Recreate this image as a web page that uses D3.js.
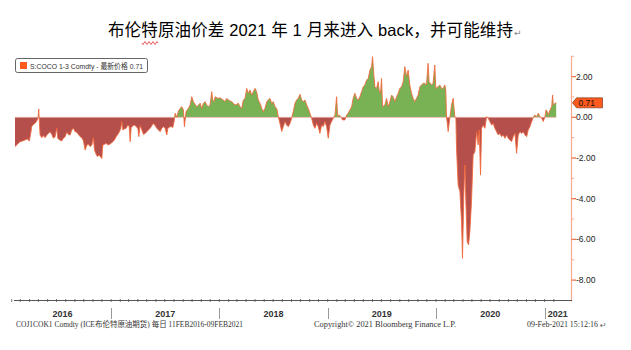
<!DOCTYPE html>
<html><head><meta charset="utf-8">
<script src="https://cdn.jsdelivr.net/npm/d3@7"></script>
<style>body{margin:0;background:#fff;} svg{display:block;}</style>
</head><body>
<svg id="c" width="631" height="350"></svg>
<script>
// ---- data (dates as fractional years, values = 1-3 month Brent spread) ----
const dateYears = [
2016.115,2016.137,2016.161,2016.186,2016.208,2016.229,2016.247,2016.260,2016.269,2016.284,2016.300,2016.315,2016.327,2016.334,2016.339,2016.346,2016.362,2016.376,2016.392,2016.408,2016.422,2016.438,2016.454,2016.469,2016.484,2016.500,2016.509,2016.524,2016.546,2016.561,2016.576,2016.592,2016.607,2016.623,2016.638,2016.653,2016.669,2016.684,2016.699,2016.715,2016.730,2016.745,2016.761,2016.777,2016.791,2016.807,2016.823,2016.837,2016.847,2016.862,2016.874,2016.890,2016.902,2016.915,2016.924,2016.939,2016.955,2016.970,2016.985,
2017.001,2017.016,2017.031,2017.047,2017.062,2017.077,2017.090,2017.099,2017.109,2017.123,2017.139,2017.155,2017.167,2017.176,2017.185,2017.201,2017.216,2017.231,2017.247,2017.256,2017.268,2017.284,2017.299,2017.314,2017.330,2017.345,2017.360,2017.376,2017.391,2017.407,2017.422,2017.437,2017.453,2017.468,2017.483,2017.499,2017.514,2017.524,2017.538,2017.554,2017.570,2017.582,2017.591,2017.607,2017.621,2017.637,2017.653,2017.668,2017.677,2017.692,2017.714,2017.729,2017.745,2017.760,2017.775,2017.791,2017.806,2017.822,2017.837,2017.852,2017.868,2017.883,2017.898,2017.914,2017.929,2017.939,2017.951,2017.960,2017.976,2017.990,
2018.006,2018.022,2018.036,2018.052,2018.068,2018.083,2018.098,2018.114,2018.129,2018.144,2018.160,2018.175,2018.190,2018.206,2018.221,2018.237,2018.252,2018.267,2018.283,2018.298,2018.313,2018.329,2018.344,2018.359,2018.375,2018.391,2018.405,2018.421,2018.437,2018.451,2018.467,2018.483,2018.498,2018.513,2018.529,2018.544,2018.559,2018.575,2018.590,2018.606,2018.621,2018.636,2018.652,2018.667,2018.682,2018.698,2018.713,2018.728,2018.744,2018.760,2018.774,2018.790,2018.806,2018.820,2018.836,2018.852,2018.867,2018.882,2018.898,2018.913,2018.928,2018.944,2018.959,2018.974,2018.990,
2019.005,2019.021,2019.036,2019.051,2019.067,2019.082,2019.092,2019.106,2019.122,2019.138,2019.159,2019.175,2019.189,2019.205,2019.221,2019.235,2019.251,2019.267,2019.282,2019.297,2019.313,2019.328,2019.343,2019.359,2019.374,2019.390,2019.405,2019.414,2019.426,2019.436,2019.451,2019.466,2019.475,2019.488,2019.497,2019.507,2019.528,2019.544,2019.558,2019.574,2019.590,2019.604,2019.620,2019.636,2019.651,2019.666,2019.682,2019.697,2019.712,2019.728,2019.743,2019.758,2019.774,2019.789,2019.805,2019.820,2019.835,2019.851,2019.866,2019.881,2019.897,2019.912,2019.927,2019.936,2019.959,2019.973,2019.989,2019.998,
2020.019,2020.035,2020.051,2020.066,2020.081,2020.090,2020.097,2020.102,2020.112,2020.127,2020.143,2020.158,2020.173,2020.183,2020.189,2020.204,2020.220,2020.235,2020.244,2020.256,2020.266,2020.275,2020.287,2020.300,2020.312,2020.327,2020.342,2020.358,2020.374,2020.388,2020.398,2020.410,2020.420,2020.434,2020.450,2020.466,2020.481,2020.496,2020.512,2020.527,2020.542,2020.558,2020.573,2020.588,2020.604,2020.619,2020.635,2020.650,2020.665,2020.681,2020.696,2020.711,2020.727,2020.742,2020.757,2020.773,2020.789,2020.803,2020.819,2020.835,2020.849,2020.865,2020.881,2020.896,2020.911,2020.927,2020.942,2020.957,2020.973,2020.988,
2021.003,2021.013,2021.025,2021.034,2021.050,2021.065,2021.074,2021.080,2021.096,2021.107
];
const spreadValues = [
-1.44,-1.33,-1.20,-1.16,-1.11,-1.07,-1.16,-0.79,-0.46,-0.35,-0.30,-0.18,-0.05,0.41,-0.21,-0.87,-1.00,-0.90,-1.00,-0.87,-0.79,-0.71,-0.84,-1.03,-0.95,-0.54,-1.03,-1.11,-1.16,-1.03,-0.95,-0.74,-0.84,-0.87,-0.62,-0.54,-0.71,-0.74,-0.84,-0.95,-1.00,-1.16,-1.61,-1.36,-1.33,-1.44,-1.36,-1.00,-1.61,-1.82,-1.93,-1.85,-1.95,-2.02,-1.36,-1.33,-1.28,-1.36,-1.33,
-1.28,-1.20,-1.11,-0.95,-0.84,-0.71,-0.54,-0.21,-0.62,-0.57,-0.54,-0.38,-0.46,-1.20,-0.51,-0.41,-0.38,-0.46,-0.54,-0.95,-0.41,-0.62,-0.84,-0.79,-0.71,-0.62,-0.54,-0.41,-0.30,-0.41,-0.54,-0.62,-0.71,-0.54,-0.46,-0.54,-0.87,-0.54,-0.49,-0.45,-0.50,-0.20,0.20,0.00,0.30,0.44,0.52,0.36,-0.46,0.28,0.44,0.60,1.01,0.77,0.64,0.52,0.60,0.69,0.44,0.69,0.77,0.60,0.52,0.60,1.26,0.85,0.77,1.01,0.96,0.93,
0.96,0.90,0.85,0.77,0.93,0.85,0.80,0.77,0.69,0.60,0.64,0.69,0.52,0.44,0.85,0.93,1.42,1.18,1.34,1.09,1.26,1.42,1.26,0.85,0.69,0.44,0.28,0.44,0.77,0.85,0.93,0.69,0.77,0.52,0.44,0.03,-0.30,-0.70,-0.46,-0.21,-0.38,-0.46,-0.30,-0.05,0.28,0.69,0.85,0.93,1.13,0.85,0.77,0.85,0.60,0.44,0.20,-0.05,-0.38,-0.54,-0.30,-0.46,-0.79,-0.38,-0.46,-0.21,-0.46,
-1.03,-0.38,-0.21,-0.05,0.11,1.01,0.08,0.11,0.03,-0.13,-0.13,0.11,0.20,0.36,0.52,0.93,1.18,0.93,0.85,1.01,1.26,1.50,1.59,1.83,1.91,2.32,2.49,2.98,2.08,1.50,1.42,1.75,1.34,1.18,1.91,0.52,0.60,0.93,0.52,0.77,1.09,1.01,0.77,1.01,1.18,1.42,1.50,1.75,2.49,2.00,2.32,1.59,1.18,0.93,0.77,0.93,1.09,1.50,1.59,1.67,1.67,1.59,2.65,1.75,1.59,1.67,2.57,1.42,
1.50,1.59,1.42,1.42,1.59,1.34,0.00,-0.21,-0.70,-0.05,0.60,0.93,0.03,0.00,-1.53,-3.33,-3.65,-5.13,-6.93,-3.82,-2.34,-4.14,-6.11,-6.27,-5.62,-4.14,-1.85,-1.69,-0.71,-1.36,-0.62,-2.84,-0.54,-0.38,-0.54,0.03,-0.05,-0.21,-0.38,-0.30,-0.54,-0.71,-0.87,-0.79,-0.95,-0.87,-1.03,-0.87,-1.03,-1.12,-1.20,-0.95,-0.79,-1.77,-0.87,-0.71,-0.79,-0.71,-0.87,-0.95,-0.62,-0.46,-0.21,0.00,0.11,0.03,0.20,0.03,-0.05,-0.21,
0.03,0.36,0.28,0.11,0.36,0.52,1.10,0.60,0.69,0.71
];
const yTickValues = [2, 0, -2, -4, -6, -8];
const yMinorTickValues = [3, 1, -1, -3, -5, -7];
const yearLabels = ["2016", "2017", "2018", "2019", "2020", "2021"];
const lastValue = 0.71;
const titleText = "布伦特原油价差 2021 年 1 月来进入 back，并可能维持";
const legendText = "S:COCO 1-3 Comdty - 最新价格 0.71";
const footerLeft = "COJ1COK1 Comdty (ICE布伦特原油期货)  每日 11FEB2016-09FEB2021";
const footerMid = "Copyright© 2021 Bloomberg Finance L.P.";
const footerRight = "09-Feb-2021 15:12:16";

// ---- helpers ----
function fy2date(fy) {
  const y = Math.floor(fy);
  const a = new Date(y, 0, 1), b = new Date(y + 1, 0, 1);
  return new Date(a.getTime() + (fy - y) * (b - a));
}
const data = dateYears.map((d, i) => ({ date: fy2date(d), v: spreadValues[i] }));

const svg = d3.select("#c");
const plotLeft = 14, plotRight = 571, plotTop = 56, plotBottom = 300.5;

const x = d3.scaleTime()
  .domain([new Date(2016, 0, 1), new Date(2021, 0, 1)])
  .range([2.5, 544.6]);
const y = d3.scaleLinear().domain([0, 2]).range([117.3, 76.6]);

// ---- title ----
svg.append("text").attr("x", 108).attr("y", 36)
  .attr("font-family", "'Liberation Sans','Noto Sans CJK SC',sans-serif")
  .attr("font-size", 16.5).attr("fill", "#000")
  .attr("textLength", 405).attr("lengthAdjust", "spacing").text(titleText);
svg.append("text").attr("x", 514).attr("y", 36)
  .attr("font-family", "'DejaVu Sans',sans-serif")
  .attr("font-size", 9).attr("fill", "#888").text("↵");
// spell-check wavy underline under 特
{
  let p = "M142,43";
  for (let i = 0; i < 8; i++) p += ` l1,${i % 2 ? -1.5 : 1.5}` + ` l1,${i % 2 ? 1.5 : -1.5}`;
  svg.append("path").attr("d", p).attr("fill", "none").attr("stroke", "#e0302a").attr("stroke-width", 0.8);
}

// ---- areas ----
const y0 = y(0);
const defs = svg.append("defs");
defs.append("clipPath").attr("id", "above").append("rect")
  .attr("x", plotLeft).attr("y", plotTop).attr("width", plotRight - plotLeft).attr("height", y0 - plotTop);
defs.append("clipPath").attr("id", "below").append("rect")
  .attr("x", plotLeft).attr("y", y0).attr("width", plotRight - plotLeft).attr("height", plotBottom - y0);

const area = d3.area().x(d => x(d.date)).y0(y0).y1(d => y(d.v));
svg.append("path").datum(data).attr("d", area).attr("fill", "#78b255").attr("clip-path", "url(#above)");
svg.append("path").datum(data).attr("d", area).attr("fill", "#b44f4c").attr("clip-path", "url(#below)");
// zero baseline under red area
svg.append("line").attr("x1", x(data[0].date)).attr("x2", x(data[data.length - 1].date))
  .attr("y1", y0).attr("y2", y0).attr("stroke", "#e9a7a0").attr("stroke-width", 0.8).attr("opacity", 0.7);

const line = d3.line().x(d => x(d.date)).y(d => y(d.v));
svg.append("path").datum(data).attr("d", line).attr("fill", "none")
  .attr("stroke", "#f3673a").attr("stroke-width", 1).attr("opacity", 0.85);

// ---- right axis ----
const axisColor = "#f6a98f";
svg.append("line").attr("x1", plotRight + 0.5).attr("x2", plotRight + 0.5)
  .attr("y1", plotTop).attr("y2", plotBottom + 1).attr("stroke", axisColor).attr("stroke-width", 1.2);
const yt = svg.append("g");
yTickValues.forEach(v => {
  yt.append("line").attr("x1", plotRight + 0.5).attr("x2", plotRight + 5)
    .attr("y1", y(v)).attr("y2", y(v)).attr("stroke", "#f07650").attr("stroke-width", 1.3);
  yt.append("text").attr("x", plotRight + 5).attr("y", y(v) + 3)
    .attr("font-family", "'Liberation Sans',Arial,sans-serif").attr("font-size", 8.5)
    .attr("fill", "#222").text(d3.format(".2f")(v).replace("−", "-"));
});
yMinorTickValues.forEach(v => {
  yt.append("line").attr("x1", plotRight + 0.5).attr("x2", plotRight + 3)
    .attr("y1", y(v)).attr("y2", y(v)).attr("stroke", axisColor).attr("stroke-width", 1);
});
// last value tag
{
  const ty = y(lastValue);
  const lx = plotRight + 1.5;
  svg.append("path")
    .attr("d", `M${lx},${ty} L${lx + 4},${ty - 5} L${lx + 30},${ty - 5} L${lx + 30},${ty + 5} L${lx + 4},${ty + 5} Z`)
    .attr("fill", "#ff5a1e").attr("stroke", "#6b2a14").attr("stroke-width", 0.6);
  svg.append("text").attr("x", lx + 6).attr("y", ty + 3)
    .attr("font-family", "'Liberation Sans',Arial,sans-serif").attr("font-size", 8.5)
    .attr("fill", "#111").text(lastValue.toFixed(2));
}

// ---- bottom axis ----
svg.append("line").attr("x1", plotLeft).attr("x2", plotRight + 1)
  .attr("y1", plotBottom).attr("y2", plotBottom).attr("stroke", "#555").attr("stroke-width", 1);
const months = d3.timeMonth.range(new Date(2016, 1, 1), new Date(2021, 2, 1));
svg.append("g").selectAll("line").data(months).join("line")
  .attr("x1", d => x(d)).attr("x2", d => x(d))
  .attr("y1", plotBottom - 1.5).attr("y2", plotBottom + 1.5)
  .attr("stroke", "#555").attr("stroke-width", 0.8);
const years = yearLabels.map(s => +s);
years.slice(1).forEach(yr => {
  const xx = Math.round(x(new Date(yr, 0, 1))) + 0.5;
  svg.append("line").attr("x1", xx).attr("x2", xx).attr("y1", 308).attr("y2", 319)
    .attr("stroke", "#999").attr("stroke-width", 1);
});
yearLabels.forEach((s, i) => {
  const a = Math.max(plotLeft, x(new Date(years[i], 0, 1)));
  const b = Math.min(plotRight, x(new Date(years[i] + 1, 0, 1)));
  svg.append("text").attr("x", (a + b) / 2).attr("y", 317)
    .attr("text-anchor", "middle")
    .attr("font-family", "'Liberation Sans',Arial,sans-serif").attr("font-size", 9)
    .attr("font-weight", "bold").attr("fill", "#333").text(s);
});

// ---- legend ----
svg.append("rect").attr("x", 15.5).attr("y", 58.5).attr("width", 132).attr("height", 14).attr("rx", 2)
  .attr("fill", "#fff").attr("stroke", "#666").attr("stroke-width", 1);
svg.append("rect").attr("x", 20).attr("y", 62).attr("width", 7).attr("height", 7).attr("fill", "#ff5a1e");
svg.append("text").attr("x", 30).attr("y", 69)
  .attr("font-family", "'Liberation Sans','Noto Sans CJK SC',sans-serif").attr("font-size", 8)
  .attr("fill", "#333").attr("textLength", 113).attr("lengthAdjust", "spacingAndGlyphs").text(legendText);

// ---- footer ----
const ff = "'Liberation Serif','Noto Sans CJK SC',serif";
svg.append("text").attr("x", 16).attr("y", 326.5).attr("font-family", ff).attr("font-size", 7.5)
  .attr("fill", "#333").attr("textLength", 227).attr("lengthAdjust", "spacingAndGlyphs").text(footerLeft);
svg.append("text").attr("x", 314).attr("y", 326.5).attr("font-family", ff).attr("font-size", 7.5)
  .attr("fill", "#333").attr("textLength", 142).attr("lengthAdjust", "spacingAndGlyphs").text(footerMid);
svg.append("text").attr("x", 527).attr("y", 326.5).attr("font-family", ff).attr("font-size", 7.5)
  .attr("fill", "#333").attr("textLength", 71).attr("lengthAdjust", "spacingAndGlyphs").text(footerRight);
svg.append("text").attr("x", 600).attr("y", 327.5).attr("font-family", "'DejaVu Sans',sans-serif")
  .attr("font-size", 8).attr("fill", "#666").text("↵");
</script>
</body></html>
